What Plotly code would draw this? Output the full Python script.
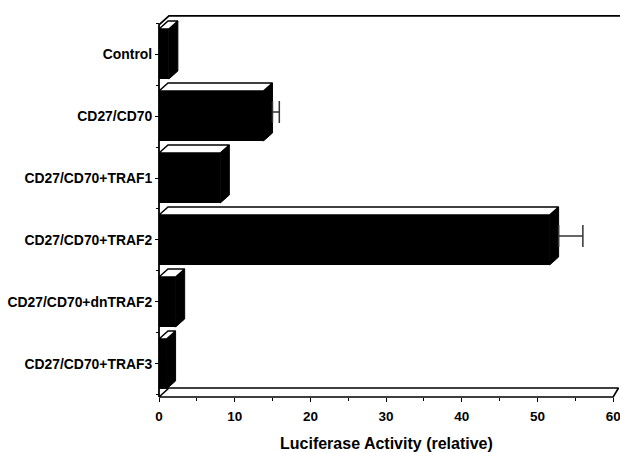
import plotly.graph_objects as go

# ---- data ----
categories = ["Control", "CD27/CD70", "CD27/CD70+TRAF1", "CD27/CD70+TRAF2",
              "CD27/CD70+dnTRAF2", "CD27/CD70+TRAF3"]
values = [1.3, 13.8, 8.1, 51.6, 2.2, 1.0]
errors = [0, 1.5, 0, 3.8, 0, 0]
x_ticks = [0, 10, 20, 30, 40, 50, 60]
x_title = "Luciferase Activity (relative)"

# ---- geometry ----
W, H = 620, 452
L, R, T, B = 155, 0, 8, 51
XMIN, XMAX = -0.528, 60.898
YTOP, YBOT = -0.742, 5.597
BAR_W = 0.806
DX, DY = 1.19, 0.129        # bar depth offset
WDX, WDY = 1.32, 0.145      # wall depth offset
Y_FRONT_TOP = -0.47
Y_FLOOR = 5.532

idx = list(range(len(categories)))
FONT = "Liberation Sans, Arial, Helvetica, sans-serif"

fig = go.Figure()

# front faces of bars
fig.add_trace(go.Bar(
    x=values, y=idx, orientation="h", width=BAR_W,
    marker=dict(color="black", line=dict(width=0)),
    hoverinfo="skip", showlegend=False))

# walls / floor outline
fig.add_trace(go.Scatter(
    x=[0, 0, WDX, XMAX + 1],
    y=[Y_FLOOR, Y_FRONT_TOP, Y_FRONT_TOP - WDY, Y_FRONT_TOP - WDY],
    mode="lines", line=dict(color="black", width=1.8),
    hoverinfo="skip", showlegend=False))
fig.add_trace(go.Scatter(
    x=[0, 60, 60.7, WDX, 0],
    y=[Y_FLOOR, Y_FLOOR, Y_FLOOR - WDY, Y_FLOOR - WDY, Y_FLOOR],
    mode="lines", line=dict(color="black", width=1.6),
    hoverinfo="skip", showlegend=False))

# 3D faces of bars
for i, v in zip(idx, values):
    top = i - BAR_W / 2
    bot = i + BAR_W / 2
    # side face
    fig.add_trace(go.Scatter(
        x=[v, v + DX, v + DX, v, v],
        y=[top, top - DY, bot - DY, bot, top],
        mode="lines", fill="toself", fillcolor="black",
        line=dict(color="black", width=1),
        hoverinfo="skip", showlegend=False))
    # top face
    fig.add_trace(go.Scatter(
        x=[0, v, v + DX, DX, 0],
        y=[top, top, top - DY, top - DY, top],
        mode="lines", fill="toself", fillcolor="white",
        line=dict(color="black", width=1.5),
        hoverinfo="skip", showlegend=False))

# error bars (drawn at mid depth; the part hidden behind the bar is skipped)
ex = [v + DX for v, e in zip(values, errors) if e > 0]
ey = [i - DY / 2 for i, e in zip(idx, errors) if e > 0]
ee = [e - DX / 2 for e in errors if e > 0]
fig.add_trace(go.Scatter(
    x=ex, y=ey, mode="markers",
    marker=dict(size=1, color="rgba(0,0,0,0)"),
    error_x=dict(type="data", array=ee, arrayminus=[0] * len(ee),
                 symmetric=False, color="#333", thickness=1.5, width=11),
    hoverinfo="skip", showlegend=False))

fig.update_layout(
    width=W, height=H,
    margin=dict(l=L, r=R, t=T, b=B, autoexpand=False),
    paper_bgcolor="white", plot_bgcolor="white",
    showlegend=False, hovermode=False,
    xaxis=dict(
        range=[XMIN, XMAX], anchor="free", position=4 / 393,
        automargin=False, ticklabeloverflow="allow",
        showgrid=False, zeroline=False, showline=False,
        tickvals=x_ticks, ticktext=[str(t) for t in x_ticks],
        ticks="outside", ticklen=4, tickwidth=1.3, tickcolor="black",
        ticklabelstandoff=3,
        minor=dict(tickvals=[5, 15, 25, 35, 45, 55], ticks="outside",
                   ticklen=3, tickwidth=1.2, tickcolor="black"),
        tickfont=dict(family=FONT, size=13.5, color="black", weight="bold"),
    ),
    yaxis=dict(
        range=[YBOT, YTOP], anchor="free", position=4 / 465,
        automargin=False, ticklabeloverflow="allow",
        showgrid=False, zeroline=False, showline=False,
        tickvals=idx, ticktext=categories,
        ticks="outside", ticklen=4, tickwidth=1.3, tickcolor="black",
        minor=dict(tickvals=[k - 0.5 for k in range(len(categories) + 1)],
                   ticks="outside", ticklen=3, tickwidth=1.2, tickcolor="black"),
        tickfont=dict(family=FONT, size=13.9, color="black", weight="bold"),
    ),
    annotations=[dict(
        text=x_title, xref="x", yref="paper", x=30, y=-43 / 393,
        xanchor="center", yanchor="middle", showarrow=False,
        font=dict(family=FONT, size=16, color="black", weight="bold"))],
)

fig.write_html(
    "out.html", config={"displayModeBar": False},
    post_script="document.body.style.margin='0';"
                "document.body.style.overflow='hidden';")
